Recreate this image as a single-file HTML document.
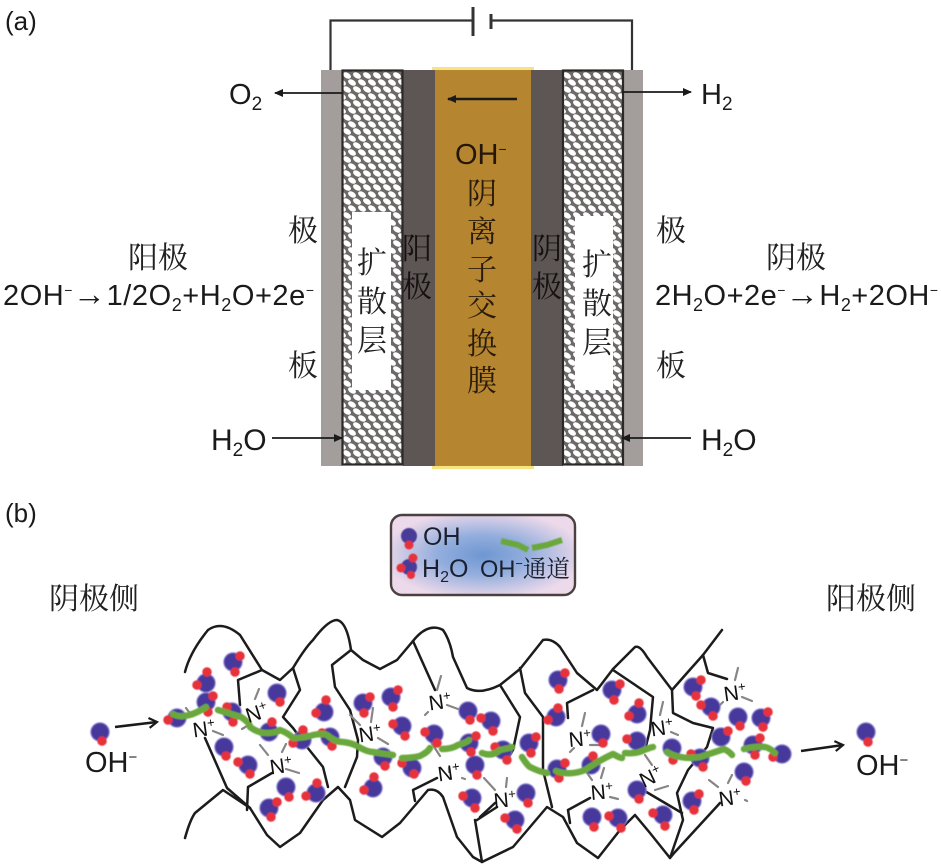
<!DOCTYPE html>
<html><head><meta charset="utf-8"><title>Diagram</title>
<style>
html,body{margin:0;padding:0;background:#fff}
svg{display:block}
text{font-family:"Liberation Sans","Noto Sans CJK SC",sans-serif;fill:#1a1a1a}
.c{font-family:"Noto Serif CJK SC","Noto Sans CJK SC",serif;font-size:30px;text-anchor:middle;fill:#222}
.n{font-size:21px;text-anchor:middle;fill:#111}
.n tspan{font-size:13px}
</style></head><body>
<svg width="941" height="864" viewBox="0 0 941 864" xmlns="http://www.w3.org/2000/svg">
<defs>
<pattern id="h" width="10" height="14" patternUnits="userSpaceOnUse" patternTransform="translate(344 72)">
<rect width="10" height="14" fill="#6e6969"/>
<g fill="#fff">
<ellipse cx="3" cy="3.5" rx="4.3" ry="2.7" transform="rotate(32 3 3.5)"/>
<ellipse cx="8" cy="10.5" rx="4.3" ry="2.7" transform="rotate(32 8 10.5)"/>
<ellipse cx="-2" cy="10.5" rx="4.3" ry="2.7" transform="rotate(32 -2 10.5)"/>
<ellipse cx="13" cy="3.5" rx="4.3" ry="2.7" transform="rotate(32 13 3.5)"/>
</g>
</pattern>
<radialGradient id="lg" cx="50%" cy="50%" r="55%">
<stop offset="0" stop-color="#6f97d2"/><stop offset=".45" stop-color="#93aedd"/><stop offset="1" stop-color="#ecd9ea"/>
</radialGradient>
<filter id="b" x="-5%" y="-5%" width="110%" height="110%"><feGaussianBlur stdDeviation=".5"/></filter>
<marker id="ar" markerWidth="10" markerHeight="8" refX="8" refY="4" orient="auto" markerUnits="userSpaceOnUse"><path d="M0 0L9 4L0 8Z" fill="#1a1a1a"/></marker>
<marker id="ar2" markerWidth="12" markerHeight="12" refX="10" refY="6" orient="auto" markerUnits="userSpaceOnUse"><path d="M2 1L10 6L2 11" fill="none" stroke="#1a1a1a" stroke-width="2.2"/></marker>
<path id="bp" fill="none" stroke-linecap="round" d="M100 732h.01M177 718h.01M233 662h.01M206 683h.01M206 702h.01M277 693h.01M232 712h.01M269 732h.01M324 712h.01M302 740h.01M330 737h.01M363 703h.01M391 697h.01M402 726h.01M434 734h.01M468 711h.01M491 721h.01M469 743h.01M475 765h.01M503 750h.01M472 798h.01M224 747h.01M248 765h.01M286 787h.01M316 793h.01M269 808h.01M383 757h.01M412 768h.01M373 788h.01M515 820h.01M558 680h.01M556 717h.01M612 690h.01M637 714h.01M601 734h.01M529 743h.01M557 769h.01M591 765h.01M637 741h.01M672 748h.01M700 758h.01M693 687h.01M711 707h.01M738 717h.01M761 718h.01M721 737h.01M753 745h.01M782 754h.01M866 732h.01M744 772h.01M692 801h.01M637 790h.01M663 815h.01M618 818h.01M592 817h.01M526 793h.01"/>
<path id="rp" fill="none" stroke-linecap="round" d="M102 741h.01M168 720h.01M240 656h.01M235 672h.01M207 672h.01M197 685h.01M213 696h.01M208 712h.01M280 702h.01M227 707h.01M233 722h.01M272 722h.01M326 700h.01M316 713h.01M303 730h.01M293 743h.01M332 746h.01M322 733h.01M370 697h.01M364 713h.01M398 690h.01M393 707h.01M393 724h.01M405 736h.01M425 732h.01M437 743h.01M470 720h.01M481 718h.01M493 731h.01M476 736h.01M471 752h.01M477 775h.01M495 747h.01M507 760h.01M463 796h.01M475 808h.01M226 756h.01M238 762h.01M250 774h.01M289 797h.01M317 783h.01M306 796h.01M277 802h.01M271 817h.01M385 766h.01M402 763h.01M414 774h.01M374 777h.01M364 790h.01M505 818h.01M517 829h.01M565 673h.01M559 689h.01M558 708h.01M548 720h.01M620 684h.01M614 700h.01M639 703h.01M629 716h.01M603 743h.01M536 737h.01M531 753h.01M565 763h.01M559 778h.01M593 756h.01M627 739h.01M673 760h.01M691 754h.01M703 767h.01M701 680h.01M696 696h.01M701 705h.01M713 716h.01M740 726h.01M768 712h.01M763 727h.01M728 731h.01M760 738h.01M755 755h.01M773 757h.01M868 742h.01M746 781h.01M699 794h.01M694 810h.01M639 799h.01M653 813h.01M665 826h.01M609 816h.01M621 828h.01M594 827h.01M528 803h.01"/>
</defs>

<!-- (a) cell -->
<rect x="321" y="70" width="21" height="396" fill="#a39d9c"/>
<rect x="622" y="70" width="21" height="396" fill="#a39d9c"/>
<rect x="432" y="67" width="102" height="402" fill="#f6e483"/>
<rect x="403" y="70" width="32" height="396" fill="#5e5655"/>
<rect x="531" y="70" width="32" height="396" fill="#5e5655"/>
<rect x="435" y="70" width="96" height="396" fill="#b5852f"/>
<rect x="342.5" y="70.5" width="60" height="394" fill="url(#h)" stroke="#2c2828" stroke-width="2.2"/>
<rect x="563" y="70.5" width="60" height="394" fill="url(#h)" stroke="#2c2828" stroke-width="2.2"/>
<rect x="352" y="212" width="39" height="178" fill="#fff"/>
<rect x="575" y="216" width="38" height="174" fill="#fff"/>

<g fill="none" stroke="#333" stroke-width="2.2">
<path d="M330.5 70V20.5H472M491 20.5H632V70"/>
<path d="M473 7V36" stroke-width="3"/>
<path d="M491 14V29" stroke-width="3"/>
</g>
<g fill="none" stroke="#1a1a1a" stroke-width="1.8" marker-end="url(#ar)">
<path d="M342 93H275"/>
<path d="M622 92H691"/>
<path d="M272 438H342"/>
<path d="M691 438H622"/>
<path d="M517 99H448" stroke-width="2.6"/>
</g>

<text x="5" y="30" font-size="26">(a)</text>
<text x="5" y="522" font-size="26">(b)</text>
<text x="229" y="104" font-size="29">O<tspan font-size="19" dy="6">2</tspan></text>
<text x="701" y="104" font-size="29">H<tspan font-size="19" dy="6">2</tspan></text>
<text x="211" y="450" font-size="30">H<tspan font-size="19" dy="6">2</tspan><tspan dy="-6">O</tspan></text>
<text x="701" y="450" font-size="30">H<tspan font-size="19" dy="6">2</tspan><tspan dy="-6">O</tspan></text>

<text class="c" x="158" y="268">阳极</text>
<text class="c" x="796" y="268">阴极</text>
<text x="3" y="305" font-size="29" textLength="311" lengthAdjust="spacing">2OH<tspan font-size="14" dy="-10">−</tspan><tspan dy="10" font-size="33">→</tspan><tspan>1/2O</tspan><tspan font-size="18" dy="6">2</tspan><tspan dy="-6">+H</tspan><tspan font-size="18" dy="6">2</tspan><tspan dy="-6">O+2e</tspan><tspan font-size="14" dy="-10">−</tspan></text>
<text x="655" y="305" font-size="29" textLength="283" lengthAdjust="spacing">2H<tspan font-size="18" dy="6">2</tspan><tspan dy="-6">O+2e</tspan><tspan font-size="14" dy="-10">−</tspan><tspan dy="10" font-size="33">→</tspan><tspan>H</tspan><tspan font-size="18" dy="6">2</tspan><tspan dy="-6">+2OH</tspan><tspan font-size="14" dy="-10">−</tspan></text>

<g>
<text class="c" x="303" y="241">极</text>
<text class="c" x="303" y="376">板</text>
<text class="c" x="671" y="241">极</text>
<text class="c" x="671" y="376">板</text>
<text class="c" x="372" y="273">扩</text>
<text class="c" x="372" y="312">散</text>
<text class="c" x="372" y="351">层</text>
<text class="c" x="597" y="275">扩</text>
<text class="c" x="597" y="314">散</text>
<text class="c" x="597" y="353">层</text>
<text class="c" x="417" y="259" style="fill:#161212">阳</text>
<text class="c" x="417" y="297" style="fill:#161212">极</text>
<text class="c" x="547" y="259" style="fill:#161212">阴</text>
<text class="c" x="547" y="297" style="fill:#161212">极</text>
</g>
<text x="455" y="164" font-size="29" style="fill:#24170a">OH<tspan font-size="14" dy="-10" style="fill:#24170a">−</tspan></text>
<text class="c" x="482" y="204" style="fill:#2a1c0c">阴</text>
<text class="c" x="482" y="242" style="fill:#2a1c0c">离</text>
<text class="c" x="482" y="280" style="fill:#2a1c0c">子</text>
<text class="c" x="482" y="316" style="fill:#2a1c0c">交</text>
<text class="c" x="482" y="354" style="fill:#2a1c0c">换</text>
<text class="c" x="482" y="391" style="fill:#2a1c0c">膜</text>

<!-- legend -->
<rect x="391" y="515" width="184" height="80" rx="11" fill="url(#lg)" stroke="#4a4040" stroke-width="2.4"/>
<g filter="url(#b)">
<circle cx="409" cy="536" r="8" fill="#4a3a98"/><circle cx="409" cy="545" r="4.5" fill="#e6303a"/>
<circle cx="409" cy="567" r="8" fill="#4a3a98"/><circle cx="413" cy="558" r="4.5" fill="#e6303a"/><circle cx="401" cy="568" r="4.5" fill="#e6303a"/><circle cx="411" cy="575" r="4" fill="#e6303a"/>
<path d="M501 541L518 545L528 550M532 548L547 545L562 540" fill="none" stroke="#6aa83e" stroke-width="6"/>
</g>
<text x="423" y="545" font-size="25" style="fill:#1a2030">OH</text>
<text x="422" y="577" font-size="25" style="fill:#1a2030">H<tspan font-size="16" dy="5" style="fill:#1a2030">2</tspan><tspan dy="-5" style="fill:#1a2030">O</tspan></text>
<text x="480" y="577" font-size="24" style="fill:#1a2030" textLength="90" lengthAdjust="spacingAndGlyphs">OH<tspan font-size="13" dy="-9" style="fill:#1a2030">−</tspan><tspan dy="9" style="fill:#1a2030;font-family:'Noto Serif CJK SC',serif">通道</tspan></text>

<text class="c" x="94" y="609">阴极侧</text>
<text class="c" x="871" y="609">阳极侧</text>
<text x="85" y="772" font-size="29">OH<tspan font-size="15" dy="-10">−</tspan></text>
<text x="856" y="775" font-size="29">OH<tspan font-size="15" dy="-10">−</tspan></text>
<path d="M115 727L157 722" fill="none" stroke="#1a1a1a" stroke-width="2.6" marker-end="url(#ar2)"/>
<path d="M801 751L843 745" fill="none" stroke="#1a1a1a" stroke-width="2.6" marker-end="url(#ar2)"/>

<!-- black boundaries -->
<g fill="none" stroke="#1c1c1c" stroke-width="2.5" stroke-linejoin="round" stroke-linecap="round">
<path d="M185 672Q190 652 208 630Q222 620 240 635L262 670L280 680L293 668Q305 648 313 640Q328 620 337 620Q347 622 351 650L363 660L380 669L397 660L413 641Q428 622 443 630Q450 640 453 657L467 688Q480 695 500 685L520 669L543 640Q552 638 560 647L577 673L597 690L613 669L635 647Q640 645 647 657L672 690L687 673L703 655L722 630"/>
<path d="M262 670L238 680L240 705"/>
<path d="M293 668L300 690L283 717L293 728L307 747L323 767L328 787"/>
<path d="M351 650L332 665L335 687L350 710L358 740L357 757L345 787"/>
<path d="M413 641L435 690"/>
<path d="M500 685L520 717L513 750L507 760"/>
<path d="M205 738L227 788L250 808"/>
<path d="M247 810L248 787L272 773"/>
<path d="M185 838Q190 820 195 813L223 790L250 808L267 835L280 847L300 833L323 800L338 787L350 800L355 820L382 837L400 823L417 803L428 790Q437 788 443 797L457 837L473 857L482 862L513 847L547 807L563 817L577 843L598 858L620 830L635 815L650 833L670 858L675 852L720 803"/>
<path d="M415 801L413 790L437 778"/>
<path d="M475 820L482 862"/>
<path d="M477 820L497 807"/>
<path d="M520 668L525 693L543 717L543 770L552 807"/>
<path d="M568 718L567 703L593 690"/>
<path d="M613 670L653 697L650 730L645 750"/>
<path d="M672 690L673 713L693 723L713 728L707 747L688 770L677 793L683 820L670 858"/>
<path d="M643 790L682 813"/>
<path d="M568 810L590 798M568 810L570 823"/>
<path d="M480 817L495 803"/>
<path d="M703 655L708 673L727 679"/>
</g>

<!-- grey ticks -->
<g fill="none" stroke="#8a8585" stroke-width="2.2" stroke-linecap="round">
<path d="M186 708L192 716M213 731L223 735M259 689L255 699M247 726L242 729M260 745L268 755M286 744L282 752M286 769L299 773"/>
<path d="M350 715L360 725M373 708L371 722M378 738L388 744M441 676L437 690M425 715L428 712M447 705L458 709M431 742L440 756M449 772L449 768M462 778L465 779"/>
<path d="M484 778L495 790M507 778L506 787M525 800L522 798"/>
<path d="M585 713L582 726M570 752L574 748M590 745L602 745M585 770L592 780M604 768L601 778M610 797L618 799"/>
<path d="M663 702L660 715M671 732L678 735M645 755L652 765M655 790L668 786"/>
<path d="M738 668L735 680M742 697L752 701M720 705L723 702M709 780L718 787M732 775L728 783M745 800L747 801"/>
</g>

<!-- molecules -->
<g filter="url(#b)">
<use href="#bp" stroke="#8f86d6" stroke-width="19.5"/>
<use href="#bp" stroke="#46379b" stroke-width="17.5"/>
<use href="#rp" stroke="#e6303a" stroke-width="9.5"/>
<!-- green channels -->
<g fill="none" stroke="#6aa83e" stroke-width="6.5" stroke-linecap="round" stroke-linejoin="round">
<path d="M173 714Q178 717 184 716Q194 715 206 707"/>
<path d="M218 710Q228 713 241 717Q250 723 250 727Q258 733 266 733Q276 733 280 730Q288 733 293 738Q305 738 313 735Q323 733 327 735Q335 742 343 742Q352 743 357 746Q367 752 373 752Q385 754 393 755"/>
<path d="M402 758Q412 758 420 756Q428 752 430 748"/>
<path d="M442 749Q452 749 458 745Q468 742 469 740"/>
<path d="M482 753Q492 757 500 750Q510 748 512 747"/>
<path d="M522 757Q527 765 530 767Q540 772 547 773"/>
<path d="M556 771Q570 776 585 770Q600 760 613 754Q620 758 622 758"/>
<path d="M625 753Q637 754 644 750Q652 747 653 747"/>
<path d="M667 752Q680 760 700 757Q715 752 724 749Q730 752 732 755"/>
<path d="M744 749Q755 746 765 747Q770 748 775 753"/>
</g>
</g>

<!-- N+ -->
<text class="n" x="204" y="736" transform="rotate(-8 204 729)">N<tspan dy="-8">+</tspan></text>
<text class="n" x="257" y="720" transform="rotate(-18 257 713)">N<tspan dy="-8">+</tspan></text>
<text class="n" x="281" y="773" transform="rotate(-8 281 766)">N<tspan dy="-8">+</tspan></text>
<text class="n" x="370" y="741" transform="rotate(-8 370 734)">N<tspan dy="-8">+</tspan></text>
<text class="n" x="440" y="709" transform="rotate(-8 440 702)">N<tspan dy="-8">+</tspan></text>
<text class="n" x="449" y="780" transform="rotate(-8 449 773)">N<tspan dy="-8">+</tspan></text>
<text class="n" x="505" y="807" transform="rotate(-5 505 800)">N<tspan dy="-8">+</tspan></text>
<text class="n" x="580" y="746" transform="rotate(-5 580 739)">N<tspan dy="-8">+</tspan></text>
<text class="n" x="662" y="735" transform="rotate(-8 662 728)">N<tspan dy="-8">+</tspan></text>
<text class="n" x="602" y="799" transform="rotate(-5 602 792)">N<tspan dy="-8">+</tspan></text>
<text class="n" x="651" y="784" transform="rotate(-25 651 777)">N<tspan dy="-8">+</tspan></text>
<text class="n" x="735" y="700" transform="rotate(-8 735 693)">N<tspan dy="-8">+</tspan></text>
<text class="n" x="730" y="805" transform="rotate(-8 730 798)">N<tspan dy="-8">+</tspan></text>
</svg>
</body></html>
